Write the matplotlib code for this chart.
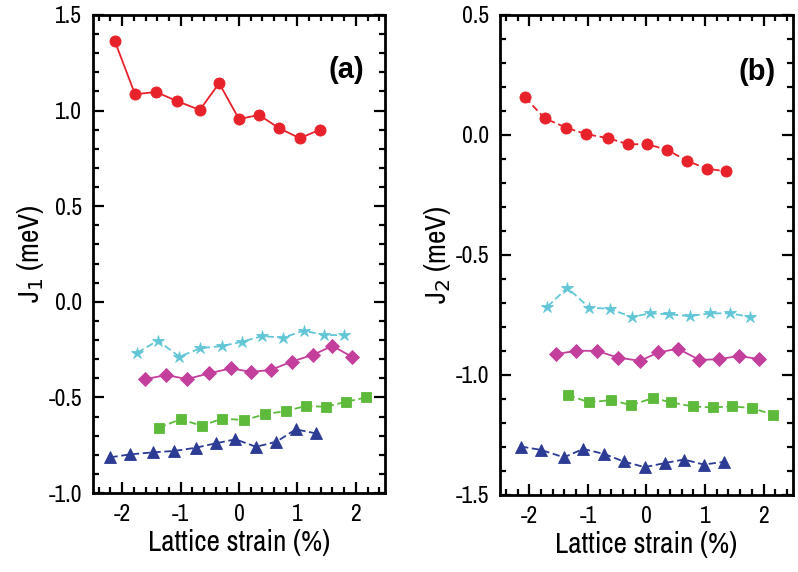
import numpy as np
import matplotlib.pyplot as plt
from matplotlib.ticker import MultipleLocator

plt.rcParams['font.family'] = ['Archivo Narrow', 'Liberation Sans', 'DejaVu Sans']
plt.rcParams['axes.unicode_minus'] = False

# ------------------- DATOS PANEL (a): J1 -------------------
x_a_rojo = [-2.13, -1.78, -1.42, -1.06, -0.67, -0.34, 0.0, 0.34, 0.69, 1.04, 1.38]
j1_rojo = [1.366, 1.085, 1.097, 1.049, 1.003, 1.143, 0.955, 0.977, 0.907, 0.855, 0.899]

x_a_cian = [-1.74, -1.39, -1.02, -0.66, -0.29, 0.05, 0.40, 0.75, 1.11, 1.46, 1.80]
j1_cian = [-0.266, -0.203, -0.287, -0.243, -0.231, -0.209, -0.179, -0.188, -0.151, -0.174, -0.174]

x_a_magenta = [-1.61, -1.25, -0.89, -0.51, -0.14, 0.20, 0.54, 0.90, 1.26, 1.60, 1.93]
j1_magenta = [-0.405, -0.383, -0.404, -0.374, -0.348, -0.366, -0.357, -0.313, -0.278, -0.231, -0.287]

x_a_verde = [-1.37, -1.00, -0.64, -0.29, 0.09, 0.45, 0.80, 1.14, 1.49, 1.83, 2.18]
j1_verde = [-0.658, -0.614, -0.648, -0.611, -0.618, -0.588, -0.571, -0.545, -0.549, -0.523, -0.500]

x_a_azul = [-2.20, -1.87, -1.47, -1.11, -0.74, -0.40, -0.06, 0.29, 0.64, 0.97, 1.32]
j1_azul = [-0.813, -0.798, -0.787, -0.780, -0.763, -0.740, -0.719, -0.758, -0.732, -0.667, -0.688]

# ------------------- DATOS PANEL (b): J2 -------------------
x_b_rojo = [-2.07, -1.74, -1.37, -1.03, -0.65, -0.32, 0.01, 0.35, 0.69, 1.03, 1.36]
j2_rojo = [0.156, 0.069, 0.030, 0.003, -0.014, -0.039, -0.039, -0.062, -0.108, -0.141, -0.152]

x_b_cian = [-1.69, -1.35, -0.98, -0.63, -0.25, 0.06, 0.39, 0.74, 1.09, 1.43, 1.76]
j2_cian = [-0.716, -0.637, -0.720, -0.725, -0.759, -0.744, -0.748, -0.755, -0.744, -0.744, -0.758]

x_b_magenta = [-1.55, -1.20, -0.85, -0.49, -0.11, 0.20, 0.54, 0.90, 1.24, 1.58, 1.92]
j2_magenta = [-0.914, -0.900, -0.900, -0.928, -0.942, -0.907, -0.891, -0.938, -0.935, -0.921, -0.935]

x_b_verde = [-1.34, -0.98, -0.60, -0.27, 0.12, 0.42, 0.79, 1.14, 1.46, 1.80, 2.16]
j2_verde = [-1.084, -1.115, -1.105, -1.126, -1.097, -1.115, -1.132, -1.136, -1.132, -1.138, -1.167]

x_b_azul = [-2.14, -1.80, -1.41, -1.08, -0.72, -0.39, -0.03, 0.31, 0.64, 0.98, 1.32]
j2_azul = [-1.299, -1.313, -1.344, -1.309, -1.330, -1.361, -1.385, -1.368, -1.353, -1.374, -1.363]

# colores
rojo = '#e8222b'
cian = '#62c6d6'
magenta = '#c43f9c'
verde = '#5dba3b'
azul = '#2c3b94'


def dibujar(ax, series, etiqueta_y, letra, pos_letra, ylim, ymayor):
    for x, y, color, marcador, tam, estilo in series:
        ax.plot(x, y, color=color, marker=marcador, markersize=tam, linestyle=estilo,
                linewidth=1.3, markeredgewidth=0.6, markeredgecolor=color)
    ax.set_xlim(-2.5, 2.5)
    ax.set_ylim(*ylim)
    ax.xaxis.set_major_locator(MultipleLocator(1))
    ax.xaxis.set_minor_locator(MultipleLocator(0.2))
    ax.yaxis.set_major_locator(MultipleLocator(ymayor))
    ax.yaxis.set_minor_locator(MultipleLocator(0.1))
    ax.tick_params(which='both', direction='in', top=True, right=True, width=1.6)
    ax.tick_params(which='major', length=8, labelsize=17, pad=8)
    ax.tick_params(which='minor', length=4)
    for lado in ax.spines.values():
        lado.set_linewidth(2)
    ax.set_xlabel('Lattice strain (%)', fontsize=21, labelpad=3)
    ax.set_ylabel(etiqueta_y, fontsize=21, labelpad=2)
    ax.text(pos_letra[0], pos_letra[1], letra, transform=ax.transAxes, fontsize=21,
            fontweight='bold', ha='right', va='center',
            family=['Liberation Sans', 'DejaVu Sans'])
    ax.yaxis.set_major_formatter(plt.FuncFormatter(lambda v, p: f'{v:.1f}'))


fig = plt.figure(figsize=(7.98, 5.72), dpi=100)
ax1 = fig.add_axes([0.1165, 0.138, 0.366, 0.836])
ax2 = fig.add_axes([0.6266, 0.135, 0.367, 0.839])

dibujar(ax1, [
    (x_a_rojo, j1_rojo, rojo, 'o', 8, '-'),
    (x_a_cian, j1_cian, cian, '*', 9, (0, (4, 2))),
    (x_a_magenta, j1_magenta, magenta, 'D', 7, '-'),
    (x_a_verde, j1_verde, verde, 's', 7, (0, (4, 2))),
    (x_a_azul, j1_azul, azul, '^', 8, (0, (4, 2))),
], 'J$_1$ (meV)', '(a)', (0.93, 0.885), (-1.0, 1.5), 0.5)

dibujar(ax2, [
    (x_b_rojo, j2_rojo, rojo, 'o', 8, (0, (4, 2))),
    (x_b_cian, j2_cian, cian, '*', 9, (0, (4, 2))),
    (x_b_magenta, j2_magenta, magenta, 'D', 7, '-'),
    (x_b_verde, j2_verde, verde, 's', 7, (0, (4, 2))),
    (x_b_azul, j2_azul, azul, '^', 8, (0, (4, 2))),
], 'J$_2$ (meV)', '(b)', (0.94, 0.882), (-1.5, 0.5), 0.5)

fig.savefig('out.png', dpi=100)
